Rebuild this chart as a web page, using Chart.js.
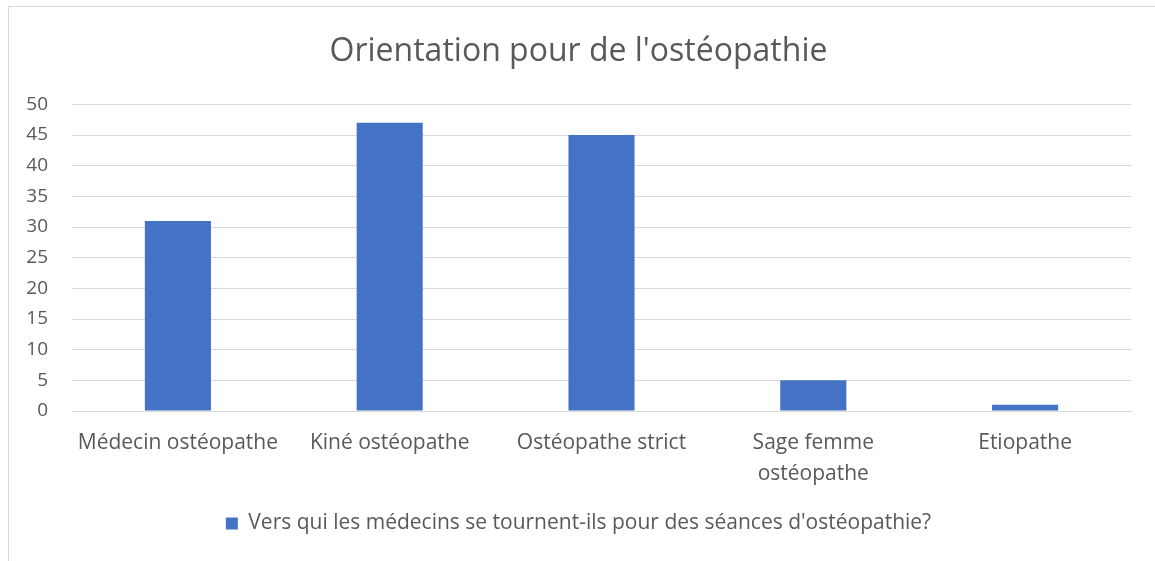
<!DOCTYPE html>
<html>
<head>
<meta charset="utf-8">
<script src="https://cdn.jsdelivr.net/npm/chart.js@4"></script>
<style>
  html, body { margin: 0; padding: 0; background: #fff; }
  #frame {
    position: absolute; left: 8px; top: 6px; width: 1147px; height: 555px;
    border-left: 1px solid #d9d9d9; border-top: 1px solid #d9d9d9;
  }
  canvas { display: block; }
</style>
</head>
<body>
<div id="frame"><canvas id="chart" width="1146" height="554"></canvas></div>
<script>
const categories = ["Médecin ostéopathe", "Kiné ostéopathe", "Ostéopathe strict", ["Sage femme", "ostéopathe"], "Etiopathe"];
const seriesName = "Vers qui les médecins se tournent-ils pour des séances d'ostéopathie?";
const values = [31, 47, 45, 5, 1];
const yMax = 50;
const yStep = 5;

const grey = "#595959";
const font = "'Open Sans', sans-serif";

new Chart(document.getElementById("chart"), {
  type: "bar",
  data: {
    labels: categories,
    datasets: [{ label: seriesName, data: values, backgroundColor: "#4472c4", categoryPercentage: 1, barPercentage: 0.312 }]
  },
  options: {
    responsive: false,
    animation: false,
    layout: { padding: { left: 17, right: 24, top: 0, bottom: 17 } },
    plugins: {
      title: {
        display: true, text: "Orientation pour de l'ostéopathie", color: grey,
        font: { family: font, size: 32, weight: "normal", lineHeight: 1.2 }, padding: { top: 26, bottom: 33 }
      },
      legend: {
        position: "bottom",
        labels: { color: grey, boxWidth: 12, boxHeight: 12, padding: 7, font: { family: font, size: 21 } }
      },
      tooltip: { enabled: false }
    },
    scales: {
      x: {
        grid: { display: false, drawTicks: false },
        border: { display: true, color: "#d9d9d9" },
        ticks: { color: grey, font: { family: font, size: 21, lineHeight: 1.5 }, padding: 16, maxRotation: 0 },
        afterFit(scale) { scale.paddingLeft = 0; scale.paddingRight = 0; }
      },
      y: {
        min: 0, max: yMax,
        grid: { color: "#d9d9d9", drawTicks: false },
        border: { display: false },
        ticks: { stepSize: yStep, color: grey, font: { family: font, size: 19 }, padding: 24 },
        afterFit(scale) { scale.width = 46; }
      }
    }
  }
});
</script>
</body>
</html>
